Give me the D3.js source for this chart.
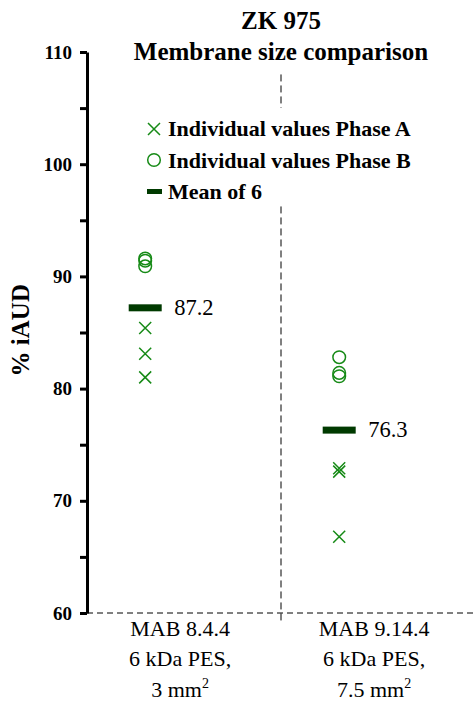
<!DOCTYPE html>
<html>
<head>
<meta charset="utf-8">
<script src="https://cdn.jsdelivr.net/npm/d3@7"></script>
</head>
<body style="margin:0; background:#fff">
<script>
// chart values
var categories = ["MAB 8.4.4", "MAB 9.14.4"];
var membrane = ["6 kDa PES,", "6 kDa PES,"];
var areas = ["3", "7.5"];                 // mm^2
var phaseA = [[85.4, 83.1, 81.0], [72.9, 72.6, 66.8]];
var phaseB = [[91.6, 91.4, 90.9], [82.8, 81.4, 81.1]];
var means = [87.2, 76.3];
var yTicks = [60, 65, 70, 75, 80, 85, 90, 95, 100, 105, 110];
var legendLabels = ["Individual values Phase A", "Individual values Phase B", "Mean of 6"];
var titleLines = ["ZK 975", "Membrane size comparison"];

var W = 475, H = 705;
var serif = "Liberation Serif";
var green = "#168a16", dark = "#003a00";

var svg = d3.select("body").append("svg")
  .attr("width", W)
  .attr("height", H)
  .attr("font-family", serif)
  .style("display", "block");

// scales: categories sit at 1 and 2, divider at 1.7
var x = d3.scaleLinear().domain([0.7, 2.7]).range([87, 475]);
var y = d3.scaleLinear().domain([60, 110]).range([613, 52]);

// dashed base line and divider
svg.append("line")
  .attr("x1", x(0.7)).attr("x2", x(2.7))
  .attr("y1", y(60)).attr("y2", y(60))
  .attr("stroke", "#000").attr("stroke-width", 1)
  .attr("stroke-dasharray", "6,4");
svg.append("line")
  .attr("x1", x(1.7)).attr("x2", x(1.7))
  .attr("y1", y(108)).attr("y2", y(59))
  .attr("stroke", "#000").attr("stroke-width", 1)
  .attr("stroke-dasharray", "7,4");

// y axis
var yAxis = d3.axisLeft(y)
  .tickValues(yTicks)
  .tickSize(7)
  .tickSizeOuter(0)
  .tickFormat(function(d) { return d % 10 === 0 ? d : ""; });
var gy = svg.append("g")
  .attr("transform", "translate(" + x(0.7) + ",0)")
  .call(yAxis)
  .attr("font-family", serif);
gy.select(".domain").attr("stroke-width", 3);
gy.selectAll(".tick line").attr("stroke-width", 3);
gy.selectAll(".tick text")
  .attr("x", -15)
  .attr("font-size", 19)
  .attr("font-weight", "bold")
  .attr("fill", "#000");

svg.append("text")
  .attr("transform", "translate(29," + y(85.2) + ") rotate(-90)")
  .attr("text-anchor", "middle")
  .attr("font-size", 25)
  .attr("font-weight", "bold")
  .text("% iAUD");

// title
svg.selectAll(".title")
  .data(titleLines)
  .enter().append("text")
    .attr("class", "title")
    .attr("x", x(1.7))
    .attr("y", function(d, i) { return 29 + i * 31; })
    .attr("text-anchor", "middle")
    .attr("font-size", 25)
    .attr("font-weight", "bold")
    .text(function(d) { return d; });

// category labels
var cat = svg.selectAll(".cat")
  .data(categories)
  .enter().append("text")
    .attr("class", "cat")
    .attr("text-anchor", "middle")
    .attr("font-size", 22);
cat.append("tspan")
  .attr("x", function(d, i) { return x(i + 1.18); })
  .attr("y", 636)
  .text(function(d) { return d; });
cat.append("tspan")
  .attr("x", function(d, i) { return x(i + 1.18); })
  .attr("y", 666)
  .text(function(d, i) { return membrane[i]; });
cat.append("tspan")
  .attr("x", function(d, i) { return x(i + 1.18); })
  .attr("y", 697)
  .text(function(d, i) { return areas[i] + " mm"; });
cat.append("tspan")
  .attr("dy", -9)
  .attr("font-size", 14)
  .text("2");

var crossPath = "M-6,-6L6,6M-6,6L6,-6";

// points
categories.forEach(function(c, i) {
  svg.selectAll(".a" + i)
    .data(phaseA[i])
    .enter().append("path")
      .attr("d", crossPath)
      .attr("transform", function(d) { return "translate(" + x(i + 1) + "," + y(d) + ")"; })
      .attr("fill", "none")
      .attr("stroke", green)
      .attr("stroke-width", 1.5);
  svg.selectAll(".b" + i)
    .data(phaseB[i])
    .enter().append("circle")
      .attr("cx", x(i + 1))
      .attr("cy", function(d) { return y(d); })
      .attr("r", 6.3)
      .attr("fill", "none")
      .attr("stroke", green)
      .attr("stroke-width", 1.5);
});

// means
svg.selectAll(".mean")
  .data(means)
  .enter().append("rect")
    .attr("x", function(d, i) { return x(i + 1) - 16.5; })
    .attr("y", function(d) { return y(d) - 3.5; })
    .attr("width", 33)
    .attr("height", 7)
    .attr("fill", dark);
svg.selectAll(".meanlab")
  .data(means)
  .enter().append("text")
    .attr("x", function(d, i) { return x(i + 1) + 29; })
    .attr("y", function(d) { return y(d) + 7; })
    .attr("font-size", 22.5)
    .text(function(d) { return d.toFixed(1); });

// legend
var lg = svg.append("g").attr("transform", "translate(154,0)");
lg.append("rect")
  .attr("x", -14).attr("y", 108)
  .attr("width", 290).attr("height", 97)
  .attr("fill", "#fff");
lg.append("path")
  .attr("d", crossPath)
  .attr("transform", "translate(0,129)")
  .attr("fill", "none").attr("stroke", green).attr("stroke-width", 1.5);
lg.append("circle")
  .attr("cx", 0).attr("cy", 160).attr("r", 6.3)
  .attr("fill", "none").attr("stroke", green).attr("stroke-width", 1.5);
lg.append("rect")
  .attr("x", -7).attr("y", 189).attr("width", 15).attr("height", 5)
  .attr("fill", dark);
lg.selectAll(".lt")
  .data(legendLabels)
  .enter().append("text")
    .attr("x", 14)
    .attr("y", function(d, i) { return 136 + i * 31.5; })
    .attr("font-size", 22)
    .attr("font-weight", "bold")
    .text(function(d) { return d; });
</script>
</body>
</html>
